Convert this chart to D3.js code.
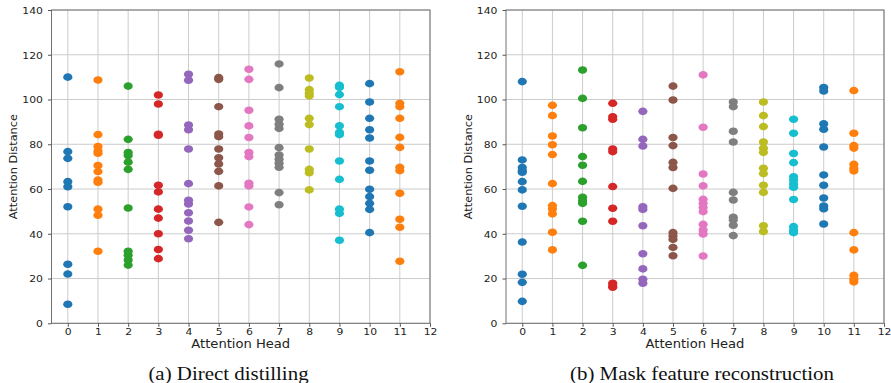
<!DOCTYPE html>
<html><head><meta charset="utf-8">
<script src="https://cdn.jsdelivr.net/npm/d3@7/dist/d3.min.js"></script>
<style>
html,body{margin:0;padding:0;background:#fff;}
svg{display:block;}
</style></head>
<body>
<svg id="chart" width="891" height="383"></svg>
<script>
const heads = [0,1,2,3,4,5,6,7,8,9,10,11];
const xTicks = [0,1,2,3,4,5,6,7,8,9,10,11,12];
const yTicks = [0,20,40,60,80,100,120,140];
const headColors = ["#1f77b4","#ff7f0e","#2ca02c","#d62728","#9467bd","#8c564b","#e377c2","#7f7f7f","#bcbd22","#17becf","#1f77b4","#ff7f0e"];

const directDistilling = [
  [110, 76.7, 73.7, 63.3, 61, 52.1, 26.4, 22, 8.5],
  [108.7, 84.3, 79, 77, 76, 70.5, 67.8, 64, 63, 51, 48.3, 32.2],
  [106, 82.2, 76.3, 75, 72, 68.8, 51.5, 32.2, 30.4, 28.3, 26],
  [102, 98, 84.5, 84, 61.7, 58.7, 51, 47, 40, 33, 28.9],
  [111.3, 108.6, 88.6, 86.5, 77.9, 62.4, 55, 53.3, 49.4, 45.7, 41.6, 37.8],
  [109.8, 109, 96.8, 84.6, 83.4, 77.9, 74, 71.2, 67.9, 61.4, 45.1],
  [113.5, 109, 95.2, 88.2, 83, 76.3, 74.5, 62.6, 61.4, 52, 44.1],
  [115.9, 105.3, 91.2, 89, 87.1, 78.5, 75.2, 73.3, 71.5, 69.7, 58.4, 53],
  [109.6, 104.4, 102.8, 101.6, 91.6, 88.8, 77.9, 68.8, 67.3, 59.6],
  [106.3, 105.4, 102.2, 96.8, 88.2, 85.3, 84.3, 72.5, 64.3, 51, 49.1, 37.1],
  [107.1, 98.9, 91.6, 86.5, 82.8, 72.5, 68.4, 59.9, 56.6, 53.6, 50.9, 40.5],
  [112.4, 98.3, 96.8, 91.6, 83.1, 78.6, 69.7, 68.2, 58.1, 46.5, 42.9, 27.7]
];

const maskReconstruction = [
  [108, 73, 69.6, 68.2, 67.5, 63.3, 59.6, 52.3, 36.3, 21.9, 18.3, 9.8],
  [97.4, 92.8, 83.7, 79.8, 75.4, 62.4, 52.6, 51.1, 48.9, 40.7, 32.8],
  [113.2, 100.5, 87.4, 74.5, 70.6, 63.4, 56.3, 54.8, 53.6, 45.6, 25.9],
  [98.3, 92.3, 91.2, 77.9, 76.7, 61.1, 51.4, 45.6, 17.9, 16.7, 16.1],
  [94.7, 82.2, 79.2, 52.1, 50.9, 43.6, 31.1, 24.3, 19.7, 17.9],
  [106, 99.8, 83, 79.4, 71.9, 69.6, 60.3, 40.5, 39, 37.5, 33.9, 30.2],
  [111, 87.6, 66.7, 61.4, 55.4, 53.6, 51.8, 49.9, 44.2, 41.7, 39.9, 30.1],
  [98.9, 96.8, 85.8, 81, 58.5, 55.1, 47.4, 46.2, 43.8, 39.2],
  [98.9, 92.8, 87.9, 81, 78.2, 76.4, 69.3, 66.9, 61.7, 58.5, 43.6, 41],
  [91.2, 84.9, 75.9, 71.8, 65.5, 64, 62.3, 60.8, 55.3, 43.2, 41.7, 40.5],
  [105.4, 103.8, 89.1, 86.7, 78.8, 66.3, 61.7, 56, 52.4, 51.2, 44.4],
  [104, 84.9, 79.4, 78.3, 71, 69.3, 68.1, 40.5, 32.8, 21.4, 19.7, 18.5]
];

const panels = [
  {data: directDistilling, caption: "(a) Direct distilling", left: 51.5, right: 430, labelX: 12, capX: 228.5},
  {data: maskReconstruction, caption: "(b) Mask feature reconstruction", left: 506, right: 884, labelX: 467, capX: 702}
];

const svg = d3.select("#chart");
const plotTop = 10, plotBottom = 323.3;
const SX = 1.15;

panels.forEach(p => {
  const x = d3.scaleLinear().domain([-0.54, 12]).range([p.left, p.right]);
  const y = d3.scaleLinear().domain([0, 140]).range([plotBottom, plotTop]);
  const g = svg.append("g");

  // grid
  g.append("g").selectAll("line").data(xTicks).join("line")
    .attr("x1", d => x(d)).attr("x2", d => x(d))
    .attr("y1", plotTop).attr("y2", plotBottom)
    .attr("stroke", "#cccccc").attr("stroke-width", 1);
  g.append("g").selectAll("line").data(yTicks).join("line")
    .attr("x1", p.left).attr("x2", p.right)
    .attr("y1", d => y(d)).attr("y2", d => y(d))
    .attr("stroke", "#cccccc").attr("stroke-width", 1);

  // points
  p.data.forEach((vals, h) => {
    g.append("g").selectAll("ellipse").data(vals).join("ellipse")
      .attr("cx", x(heads[h])).attr("cy", d => y(d))
      .attr("rx", 4.6).attr("ry", 3.8)
      .attr("fill", headColors[h]);
  });

  // frame
  g.append("rect").attr("x", p.left).attr("y", plotTop)
    .attr("width", p.right - p.left).attr("height", plotBottom - plotTop)
    .attr("fill", "none").attr("stroke", "#707070").attr("stroke-width", 1);

  // axes
  const xAxis = g.append("g").attr("transform", `translate(0,${plotBottom})`)
    .call(d3.axisBottom(x).tickValues(xTicks).tickSize(3.5).tickPadding(2).tickFormat(d3.format("d")));
  const yAxis = g.append("g").attr("transform", `translate(${p.left},0)`)
    .call(d3.axisLeft(y).tickValues(yTicks).tickSize(3.5).tickPadding(4).tickFormat(d3.format("d")));
  [xAxis, yAxis].forEach(a => {
    a.select(".domain").remove();
    a.selectAll(".tick line").attr("stroke", "#555");
    a.selectAll(".tick text").attr("fill", "#222")
      .style("font-family", "DejaVu Sans").style("font-size", "9.4px");
  });
  xAxis.selectAll(".tick text").attr("transform", `scale(${SX},1)`);
  yAxis.selectAll(".tick text").attr("transform", `scale(${SX},1)`).attr("dy", "0.36em");

  // axis labels
  g.append("text")
    .attr("transform", `translate(${(p.left + p.right) / 2},347.5) scale(${SX},1)`)
    .attr("text-anchor", "middle").attr("fill", "#222")
    .style("font-family", "DejaVu Sans").style("font-size", "11.4px")
    .text("Attention Head");
  g.append("text")
    .attr("transform", `translate(${p.labelX + 4.5},${(plotTop + plotBottom) / 2}) rotate(-90)`)
    .attr("text-anchor", "middle").attr("fill", "#222")
    .style("font-family", "DejaVu Sans").style("font-size", "11.3px")
    .text("Attention Distance");

  // caption
  g.append("text")
    .attr("transform", `translate(${p.capX},380) scale(1.1,1)`)
    .attr("text-anchor", "middle").attr("fill", "#111")
    .style("font-family", "Liberation Serif").style("font-size", "19px")
    .text(p.caption);
});
</script>
</body></html>
